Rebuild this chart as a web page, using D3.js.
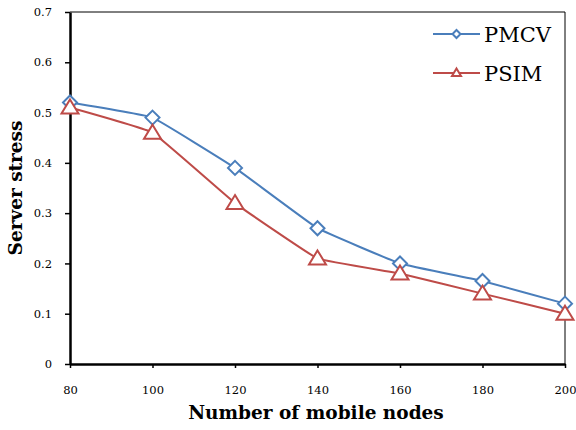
<!DOCTYPE html>
<meta charset="utf-8">
<style>
body { margin: 0; background: #fff; }
svg text { font-family: "DejaVu Serif", serif; fill: #000; }
.axis-title { font-size: 18.5px; font-weight: bold; }
.legend text { font-size: 21px; }
</style>
<body>
<div id="main"></div>
<script src="https://d3js.org/d3.v7.min.js"></script>
<script>
// values
var nodes = [80, 100, 120, 140, 160, 180, 200];
var pmcv = [0.52, 0.49, 0.39, 0.27, 0.20, 0.165, 0.12];
var psim = [0.51, 0.46, 0.32, 0.21, 0.18, 0.14, 0.10];
var yTicks = [0, 0.1, 0.2, 0.3, 0.4, 0.5, 0.6, 0.7];
var seriesNames = ["PMCV", "PSIM"];

var width = 576, height = 430,
	margin = {top: 12, right: 11, bottom: 66, left: 70};

var svg = d3.select("#main").append("svg")
	.attr("width", width)
	.attr("height", height);

var x = d3.scaleLinear().domain([80, 200]).range([margin.left, width - margin.right]);
var y = d3.scaleLinear().domain([0, 0.7]).range([height - margin.bottom, margin.top]);

// thin frame on top and right
svg.append("path")
	.attr("d", "M" + x(80) + "," + y(0.7) + "H" + x(200) + "V" + y(0))
	.attr("fill", "none")
	.attr("stroke", "#000")
	.attr("stroke-width", 1);

var xAxis = svg.append("g")
	.attr("transform", "translate(0," + y(0) + ")")
	.call(d3.axisBottom(x).tickValues(nodes).tickSize(4).tickSizeOuter(0).tickPadding(18).tickFormat(d3.format("d")));

var yAxis = svg.append("g")
	.attr("transform", "translate(" + x(80) + ",0)")
	.call(d3.axisLeft(y).tickValues(yTicks).tickSize(5).tickSizeOuter(0).tickPadding(13)
		.tickFormat(function(d) { return d === 0 ? "0" : d3.format(".1f")(d); }));

[xAxis, yAxis].forEach(function(a) {
	a.attr("font-family", "DejaVu Serif").attr("font-size", 11.5);
	a.select(".domain").attr("stroke-width", 2.5);
	a.selectAll(".tick line").attr("stroke-width", 1.5);
	a.selectAll(".tick text").attr("fill", "#222");
});

svg.append("text")
	.attr("class", "axis-title")
	.attr("x", 316)
	.attr("y", 419)
	.attr("text-anchor", "middle")
	.text("Number of mobile nodes");

svg.append("text")
	.attr("class", "axis-title")
	.attr("transform", "translate(22," + 188 + ") rotate(-90)")
	.attr("text-anchor", "middle")
	.text("Server stress");

var colors = ["#4a7ebb", "#be4b48"];
var data = [pmcv, psim];

var line = d3.line()
	.x(function(d, i) { return x(nodes[i]); })
	.y(function(d) { return y(d); })
	.curve(d3.curveCardinal.tension(0.75));

var diamond = "M0,-7L7,0L0,7L-7,0Z";
var triangle = "M0,-8L8.5,6L-8.5,6Z";
var shapes = [diamond, triangle];

data.forEach(function(s, k) {
	svg.append("path")
		.attr("d", line(s))
		.attr("fill", "none")
		.attr("stroke", colors[k])
		.attr("stroke-width", 2);

	svg.selectAll(".m" + k)
		.data(s)
		.enter().append("path")
		.attr("class", "m" + k)
		.attr("d", shapes[k])
		.attr("transform", function(d, i) { return "translate(" + x(nodes[i]) + "," + y(d) + ")"; })
		.attr("fill", "#fff")
		.attr("stroke", colors[k])
		.attr("stroke-width", 2);
});

// legend
var legend = svg.append("g").attr("class", "legend");
var smallShapes = ["M0,-4L4,0L0,4L-4,0Z", "M0,-4.5L4.5,3L-4.5,3Z"];
seriesNames.forEach(function(name, k) {
	var ly = 34 + k * 39;
	legend.append("line")
		.attr("x1", 433).attr("x2", 480)
		.attr("y1", ly).attr("y2", ly)
		.attr("stroke", colors[k])
		.attr("stroke-width", 2);
	legend.append("path")
		.attr("d", smallShapes[k])
		.attr("transform", "translate(456.5," + ly + ")")
		.attr("fill", "#fff")
		.attr("stroke", colors[k])
		.attr("stroke-width", 2);
	legend.append("text")
		.attr("x", 484)
		.attr("y", ly + 7.5)
		.text(name);
});
</script>
</body>
